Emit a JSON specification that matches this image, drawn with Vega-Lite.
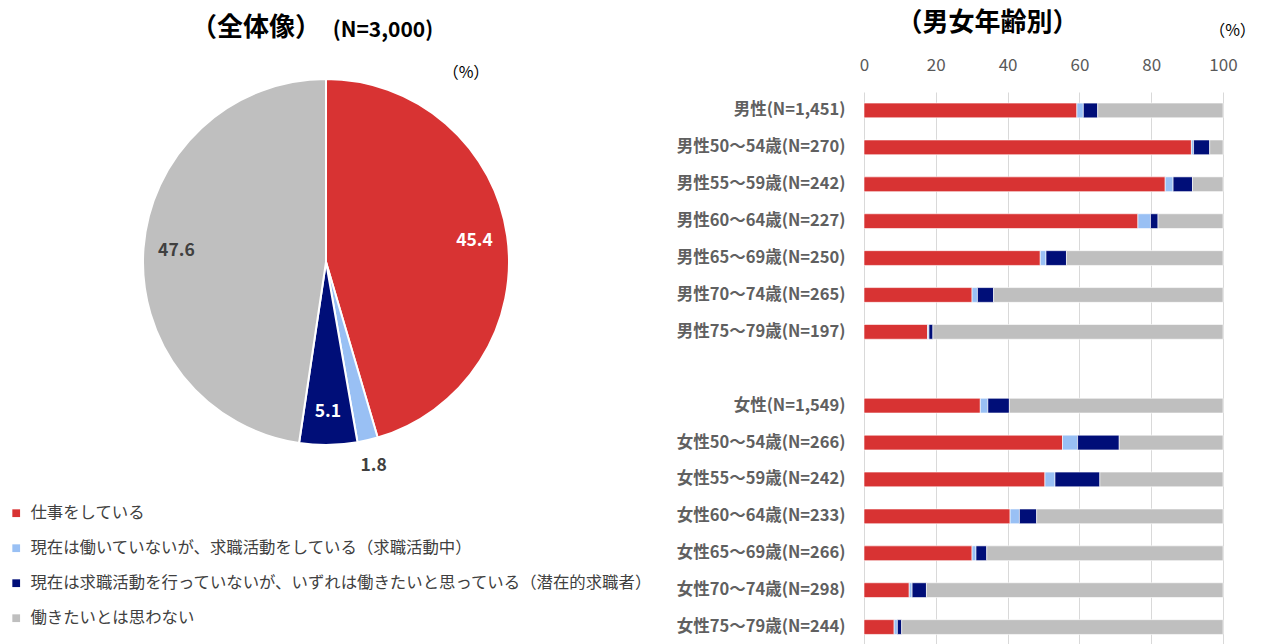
{
  "$schema": "https://vega.github.io/schema/vega-lite/v6.json",
  "autosize": {"type": "none"},
  "padding": {"left": 143, "top": 92, "right": 1118, "bottom": 552},
  "bounds": "flush",
  "spacing": 355,
  "config": {
    "view": {"stroke": null},
    "font": "Noto Sans CJK JP",
    "title": {"font": "Noto Sans CJK JP", "color": "#000000"}
  },
  "datasets": {
    "pie": [
      {"c": "仕事をしている", "k": 1, "v": 45.4},
      {"c": "現在は働いていないが、求職活動をしている（求職活動中）", "k": 2, "v": 1.8},
      {"c": "現在は求職活動を行っていないが、いずれは働きたいと思っている（潜在的求職者）", "k": 3, "v": 5.1},
      {"c": "働きたいとは思わない", "k": 4, "v": 47.6}
    ],
    "bars": [
      {"g": "男性(N=1,451)", "c": "仕事をしている", "k": 1, "v": 59.3},
      {"g": "男性(N=1,451)", "c": "現在は働いていないが、求職活動をしている（求職活動中）", "k": 2, "v": 1.8},
      {"g": "男性(N=1,451)", "c": "現在は求職活動を行っていないが、いずれは働きたいと思っている（潜在的求職者）", "k": 3, "v": 4.0},
      {"g": "男性(N=1,451)", "c": "働きたいとは思わない", "k": 4, "v": 34.9},
      {"g": "男性50～54歳(N=270)", "c": "仕事をしている", "k": 1, "v": 91.2},
      {"g": "男性50～54歳(N=270)", "c": "現在は働いていないが、求職活動をしている（求職活動中）", "k": 2, "v": 0.6},
      {"g": "男性50～54歳(N=270)", "c": "現在は求職活動を行っていないが、いずれは働きたいと思っている（潜在的求職者）", "k": 3, "v": 4.5},
      {"g": "男性50～54歳(N=270)", "c": "働きたいとは思わない", "k": 4, "v": 3.7},
      {"g": "男性55～59歳(N=242)", "c": "仕事をしている", "k": 1, "v": 83.9},
      {"g": "男性55～59歳(N=242)", "c": "現在は働いていないが、求職活動をしている（求職活動中）", "k": 2, "v": 2.2},
      {"g": "男性55～59歳(N=242)", "c": "現在は求職活動を行っていないが、いずれは働きたいと思っている（潜在的求職者）", "k": 3, "v": 5.4},
      {"g": "男性55～59歳(N=242)", "c": "働きたいとは思わない", "k": 4, "v": 8.5},
      {"g": "男性60～64歳(N=227)", "c": "仕事をしている", "k": 1, "v": 76.3},
      {"g": "男性60～64歳(N=227)", "c": "現在は働いていないが、求職活動をしている（求職活動中）", "k": 2, "v": 3.5},
      {"g": "男性60～64歳(N=227)", "c": "現在は求職活動を行っていないが、いずれは働きたいと思っている（潜在的求職者）", "k": 3, "v": 2.1},
      {"g": "男性60～64歳(N=227)", "c": "働きたいとは思わない", "k": 4, "v": 18.1},
      {"g": "男性65～69歳(N=250)", "c": "仕事をしている", "k": 1, "v": 49.1},
      {"g": "男性65～69歳(N=250)", "c": "現在は働いていないが、求職活動をしている（求職活動中）", "k": 2, "v": 1.6},
      {"g": "男性65～69歳(N=250)", "c": "現在は求職活動を行っていないが、いずれは働きたいと思っている（潜在的求職者）", "k": 3, "v": 5.7},
      {"g": "男性65～69歳(N=250)", "c": "働きたいとは思わない", "k": 4, "v": 43.6},
      {"g": "男性70～74歳(N=265)", "c": "仕事をしている", "k": 1, "v": 30.1},
      {"g": "男性70～74歳(N=265)", "c": "現在は働いていないが、求職活動をしている（求職活動中）", "k": 2, "v": 1.5},
      {"g": "男性70～74歳(N=265)", "c": "現在は求職活動を行っていないが、いずれは働きたいと思っている（潜在的求職者）", "k": 3, "v": 4.5},
      {"g": "男性70～74歳(N=265)", "c": "働きたいとは思わない", "k": 4, "v": 63.9},
      {"g": "男性75～79歳(N=197)", "c": "仕事をしている", "k": 1, "v": 17.7},
      {"g": "男性75～79歳(N=197)", "c": "現在は働いていないが、求職活動をしている（求職活動中）", "k": 2, "v": 0.4},
      {"g": "男性75～79歳(N=197)", "c": "現在は求職活動を行っていないが、いずれは働きたいと思っている（潜在的求職者）", "k": 3, "v": 1.1},
      {"g": "男性75～79歳(N=197)", "c": "働きたいとは思わない", "k": 4, "v": 80.8},
      {"g": "女性(N=1,549)", "c": "仕事をしている", "k": 1, "v": 32.4},
      {"g": "女性(N=1,549)", "c": "現在は働いていないが、求職活動をしている（求職活動中）", "k": 2, "v": 2.1},
      {"g": "女性(N=1,549)", "c": "現在は求職活動を行っていないが、いずれは働きたいと思っている（潜在的求職者）", "k": 3, "v": 6.0},
      {"g": "女性(N=1,549)", "c": "働きたいとは思わない", "k": 4, "v": 59.5},
      {"g": "女性50～54歳(N=266)", "c": "仕事をしている", "k": 1, "v": 55.3},
      {"g": "女性50～54歳(N=266)", "c": "現在は働いていないが、求職活動をしている（求職活動中）", "k": 2, "v": 4.2},
      {"g": "女性50～54歳(N=266)", "c": "現在は求職活動を行っていないが、いずれは働きたいと思っている（潜在的求職者）", "k": 3, "v": 11.6},
      {"g": "女性50～54歳(N=266)", "c": "働きたいとは思わない", "k": 4, "v": 28.9},
      {"g": "女性55～59歳(N=242)", "c": "仕事をしている", "k": 1, "v": 50.4},
      {"g": "女性55～59歳(N=242)", "c": "現在は働いていないが、求職活動をしている（求職活動中）", "k": 2, "v": 2.8},
      {"g": "女性55～59歳(N=242)", "c": "現在は求職活動を行っていないが、いずれは働きたいと思っている（潜在的求職者）", "k": 3, "v": 12.5},
      {"g": "女性55～59歳(N=242)", "c": "働きたいとは思わない", "k": 4, "v": 34.3},
      {"g": "女性60～64歳(N=233)", "c": "仕事をしている", "k": 1, "v": 40.7},
      {"g": "女性60～64歳(N=233)", "c": "現在は働いていないが、求職活動をしている（求職活動中）", "k": 2, "v": 2.6},
      {"g": "女性60～64歳(N=233)", "c": "現在は求職活動を行っていないが、いずれは働きたいと思っている（潜在的求職者）", "k": 3, "v": 4.8},
      {"g": "女性60～64歳(N=233)", "c": "働きたいとは思わない", "k": 4, "v": 51.9},
      {"g": "女性65～69歳(N=266)", "c": "仕事をしている", "k": 1, "v": 30.1},
      {"g": "女性65～69歳(N=266)", "c": "現在は働いていないが、求職活動をしている（求職活動中）", "k": 2, "v": 1.1},
      {"g": "女性65～69歳(N=266)", "c": "現在は求職活動を行っていないが、いずれは働きたいと思っている（潜在的求職者）", "k": 3, "v": 3.0},
      {"g": "女性65～69歳(N=266)", "c": "働きたいとは思わない", "k": 4, "v": 65.8},
      {"g": "女性70～74歳(N=298)", "c": "仕事をしている", "k": 1, "v": 12.6},
      {"g": "女性70～74歳(N=298)", "c": "現在は働いていないが、求職活動をしている（求職活動中）", "k": 2, "v": 0.8},
      {"g": "女性70～74歳(N=298)", "c": "現在は求職活動を行っていないが、いずれは働きたいと思っている（潜在的求職者）", "k": 3, "v": 4.0},
      {"g": "女性70～74歳(N=298)", "c": "働きたいとは思わない", "k": 4, "v": 82.6},
      {"g": "女性75～79歳(N=244)", "c": "仕事をしている", "k": 1, "v": 8.4},
      {"g": "女性75～79歳(N=244)", "c": "現在は働いていないが、求職活動をしている（求職活動中）", "k": 2, "v": 0.9},
      {"g": "女性75～79歳(N=244)", "c": "現在は求職活動を行っていないが、いずれは働きたいと思っている（潜在的求職者）", "k": 3, "v": 1.2},
      {"g": "女性75～79歳(N=244)", "c": "働きたいとは思わない", "k": 4, "v": 89.5}
    ]
  },
  "resolve": {"legend": {"color": "independent"}},
  "hconcat": [
    {
      "width": 366,
      "height": 340,
      "title": {"text": "（全体像）", "fontSize": 26, "fontWeight": "bold", "anchor": "middle", "dx": -70, "offset": -21},
      "layer": [
        {
          "data": {"name": "pie"},
          "mark": {"type": "arc", "radius": 183, "stroke": "white", "strokeWidth": 2},
          "encoding": {
            "theta": {"field": "v", "type": "quantitative", "stack": true},
            "order": {"field": "k", "type": "quantitative"},
            "color": {
              "field": "c",
              "type": "nominal",
              "scale": {
                "domain": ["仕事をしている", "現在は働いていないが、求職活動をしている（求職活動中）", "現在は求職活動を行っていないが、いずれは働きたいと思っている（潜在的求職者）", "働きたいとは思わない"],
                "range": ["#D83333", "#99C0F4", "#000E78", "#BFBFBF"]
              },
              "legend": {
                "orient": "none",
                "legendX": -135,
                "legendY": 413,
                "direction": "vertical",
                "title": null,
                "symbolType": "square",
                "symbolSize": 60,
                "symbolStrokeWidth": 0,
                "labelFontSize": 16.4,
                "labelColor": "#404040",
                "labelFont": "Noto Sans CJK JP",
                "labelLimit": 900,
                "labelOffset": 6,
                "rowPadding": 18
              }
            }
          }
        },
        {
          "data": {"name": "pie"},
          "mark": {"type": "text", "radius": 150, "fontSize": 17.5, "fontWeight": 600, "font": "Noto Sans CJK JP"},
          "encoding": {
            "theta": {"field": "v", "type": "quantitative", "stack": true},
            "order": {"field": "k", "type": "quantitative"},
            "detail": {"field": "c", "type": "nominal"},
            "text": {"field": "v", "type": "quantitative", "format": ".1f"},
            "color": {"condition": {"test": "datum.k == 1 || datum.k == 3", "value": "#FFFFFF"}, "value": "#404040"},
            "opacity": {"condition": {"test": "datum.k == 2", "value": 0}, "value": 1}
          }
        },
        {
          "data": {"name": "pie"},
          "mark": {"type": "text", "radius": 209, "fontSize": 17.5, "fontWeight": 600, "font": "Noto Sans CJK JP", "color": "#404040"},
          "encoding": {
            "theta": {"field": "v", "type": "quantitative", "stack": true},
            "order": {"field": "k", "type": "quantitative"},
            "detail": {"field": "c", "type": "nominal"},
            "text": {"field": "v", "type": "quantitative", "format": ".1f"},
            "opacity": {"condition": {"test": "datum.k != 2", "value": 0}, "value": 1}
          }
        },
        {
          "data": {"values": [{"t": "(N=3,000)"}]},
          "mark": {"type": "text", "fontSize": 21, "fontWeight": "bold", "color": "#000000", "align": "center", "baseline": "middle"},
          "encoding": {
            "text": {"field": "t", "type": "nominal"},
            "x": {"value": 240},
            "y": {"value": -61}
          }
        },
        {
          "data": {"values": [{"t": "（%）"}]},
          "mark": {"type": "text", "fontSize": 16, "color": "#000000", "align": "center", "baseline": "middle"},
          "encoding": {
            "text": {"field": "t", "type": "nominal"},
            "x": {"value": 323},
            "y": {"value": -19}
          }
        }
      ]
    },
    {
      "width": 359,
      "height": 553.5,
      "title": {"text": "（男女年齢別）", "fontSize": 26, "fontWeight": "bold", "anchor": "middle", "dx": -56, "offset": -14},
      "data": {"name": "bars"},
      "mark": {"type": "bar", "stroke": "#FFFFFF", "strokeWidth": 0.6},
      "encoding": {
        "y": {
          "field": "g",
          "type": "nominal",
          "scale": {
            "domain": ["男性(N=1,451)", "男性50～54歳(N=270)", "男性55～59歳(N=242)", "男性60～64歳(N=227)", "男性65～69歳(N=250)", "男性70～74歳(N=265)", "男性75～79歳(N=197)", " ", "女性(N=1,549)", "女性50～54歳(N=266)", "女性55～59歳(N=242)", "女性60～64歳(N=233)", "女性65～69歳(N=266)", "女性70～74歳(N=298)", "女性75～79歳(N=244)"],
            "paddingInner": 0.6,
            "paddingOuter": 0.3
          },
          "axis": {
            "title": null,
            "ticks": false,
            "domain": false,
            "labelFontSize": 16.5,
            "labelFontWeight": "bold",
            "labelColor": "#606060",
            "labelPadding": 19,
            "labelLimit": 400
          }
        },
        "x": {
          "field": "v",
          "type": "quantitative",
          "stack": "zero",
          "scale": {"domain": [0, 100], "nice": false},
          "axis": {
            "orient": "top",
            "values": [0, 20, 40, 60, 80, 100],
            "grid": true,
            "gridColor": "#D9D9D9",
            "gridWidth": 1,
            "domain": false,
            "ticks": false,
            "labelFlush": false,
            "labelFontSize": 17,
            "labelColor": "#595959",
            "labelPadding": 18,
            "title": "（%）",
            "titleFontSize": 16,
            "titleFontWeight": "normal",
            "titleColor": "#000000",
            "titleX": 368,
            "titleY": -62,
            "titleAlign": "center",
            "titleBaseline": "middle"
          }
        },
        "color": {
          "field": "c",
          "type": "nominal",
          "scale": {
            "domain": ["仕事をしている", "現在は働いていないが、求職活動をしている（求職活動中）", "現在は求職活動を行っていないが、いずれは働きたいと思っている（潜在的求職者）", "働きたいとは思わない"],
            "range": ["#D83333", "#99C0F4", "#000E78", "#BFBFBF"]
          },
          "legend": null
        },
        "order": {"field": "k", "type": "quantitative"}
      }
    }
  ]
}
